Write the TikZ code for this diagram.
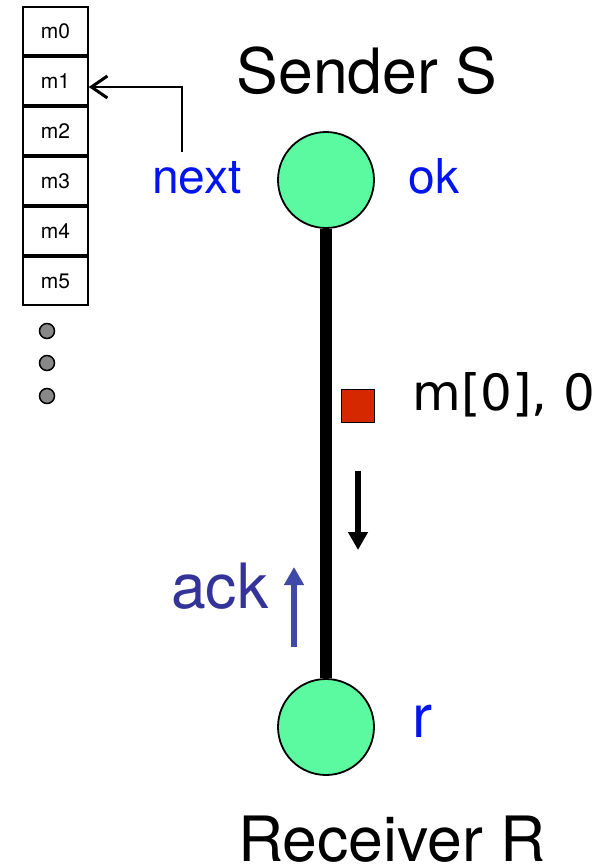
\documentclass[tikz,border=0pt]{standalone}
\usepackage{fontspec}
\setmainfont{TeX Gyre Heros}
\newfontfamily\msgfont{DejaVu Sans}
\usetikzlibrary{arrows.meta}

\definecolor{procgreen}{RGB}{92,250,160}
\definecolor{msgred}{RGB}{214,40,0}
\definecolor{labelblue}{RGB}{0,20,240}
\definecolor{ackblue}{RGB}{51,51,153}
\definecolor{ackarrow}{RGB}{64,72,168}
\definecolor{dotgray}{RGB}{136,136,136}

\tikzset{
	cell/.style = {draw, line width=1.5pt, minimum width=65pt, minimum height=48pt, inner sep=0pt, font=\fontsize{21}{21}\selectfont},
	dot/.style = {circle, draw, line width=1.5pt, fill=dotgray, minimum size=15pt, inner sep=0pt},
	proc/.style = {circle, draw, line width=1.8pt, fill=procgreen, minimum size=96pt, inner sep=0pt},
	big/.style = {inner sep=0pt, font=\fontsize{62.5}{62.5}\selectfont},
	lbl/.style = {inner sep=0pt, text=labelblue, font=\fontsize{48}{48}\selectfont},
	flow/.style = {line width=6pt, -{Triangle[length=18pt,width=19pt]}}
}

\begin{document}
\begin{tikzpicture}[x=1pt, y=-1pt]
	\useasboundingbox (0,0) rectangle (609,867);

	% Message buffer
	\foreach \i in {0,...,5}
		\node[cell] (m\i) at (55.5, 31+50*\i) {m\i};
	\foreach \y [count=\i] in {331,363,396}
		\node[dot] (dot\i) at (47,\y) {};

	% Sender and receiver
	\node[proc] (snd) at (326,180) {};
	\node[proc] (rcv) at (326,727) {};
	\draw[line width=12pt] (snd) -- (rcv);

	\node[big, anchor=base] (sname) at (367,93) {Sender S};
	\node[big, anchor=base] (rname) at (392,861) {Receiver R};
	\node[lbl, anchor=base] (next) at (197,193) {next};
	\node[lbl, anchor=base] (ok) at (434,193) {ok};
	\node[lbl, anchor=base, font=\fontsize{60}{60}\selectfont] (r) at (422,737) {r};

	% Pointer to the next message
	\coordinate (nptr) at (182,152);
	\draw[line width=1.5pt, -{Straight Barb[length=16pt,width=22pt,line width=3pt]}]
		(nptr) |- ([yshift=-6pt]m1.east);

	% Message in transit
	\node[draw, line width=1.5pt, fill=msgred, minimum size=33pt, inner sep=0pt] (pkt) at (358,406) {};
	\node[inner sep=0pt, anchor=base, font=\msgfont\fontsize{50}{50}\selectfont] (pktlbl) at (504,410) {m[0], 0};
	\coordinate (dtop) at (358,471);
	\coordinate (dbot) at (358,550);
	\draw[flow] (dtop) -- (dbot);

	% Acknowledgement
	\node[big, anchor=base, text=ackblue] (ack) at (220,608) {ack};
	\coordinate (abot) at (294,647);
	\coordinate (atop) at (294,567);
	\draw[flow, ackarrow] (abot) -- (atop);
\end{tikzpicture}
\end{document}
